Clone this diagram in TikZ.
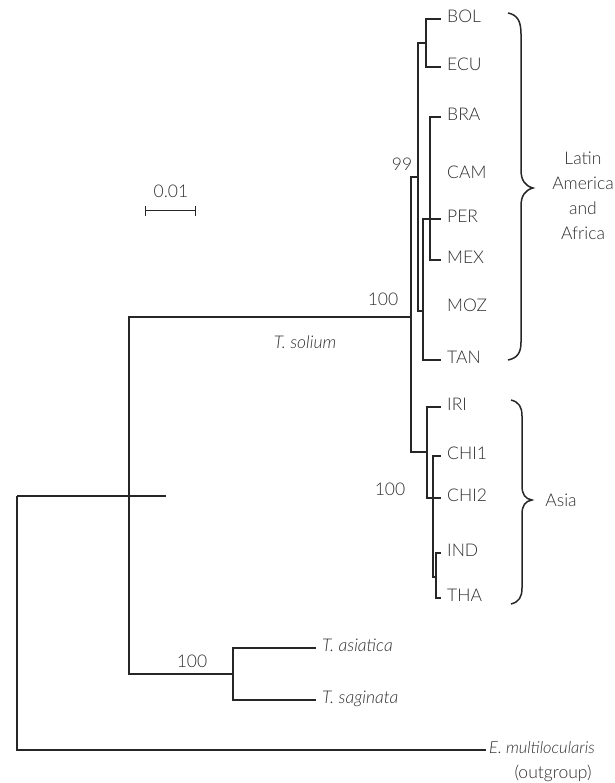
\documentclass[tikz,border=0pt]{standalone}
\usepackage{fontspec}
\setmainfont{Lato Light}[ItalicFont={Lato Light Italic}]
\definecolor{txt}{HTML}{2E2E2E}
\definecolor{linec}{HTML}{262626}
\begin{document}
\begin{tikzpicture}[x=1pt,y=-1pt,
  br/.style={line width=1.2pt,draw=linec},
  brace/.style={line width=1.5pt,draw=linec},
  leaf/.style={anchor=west,inner xsep=6pt,inner ysep=0pt,text height=0.72em,text depth=0pt,font=\fontsize{17.5}{20}\selectfont,text=txt},
  leafit/.style={leaf,font=\fontsize{17.5}{20}\selectfont\itshape},
  lab/.style={font=\fontsize{17.5}{20}\selectfont,text=txt,inner sep=0pt}]
\useasboundingbox (0,0) rectangle (614,783);

% leaves
\node[leaf] (BOL) at (441,19) {BOL};
\node[leaf] (ECU) at (441,67) {ECU};
\node[leaf] (BRA) at (441,117) {BRA};
\node[leaf] (CAM) at (441,175) {CAM};
\node[leaf] (PER) at (441,219) {PER};
\node[leaf] (MEX) at (441,260) {MEX};
\node[leaf] (MOZ) at (441,308) {MOZ};
\node[leaf] (TAN) at (441,360) {TAN};
\node[leaf] (IRI) at (441,407) {IRI};
\node[leaf] (CHIa) at (441,456) {CHI1};
\node[leaf] (CHIb) at (441,498) {CHI2};
\node[leaf] (IND) at (441,553) {IND};
\node[leaf] (THA) at (441,598) {THA};
\node[leafit] (Tas) at (316,648) {T. asiatica};
\node[leafit] (Tsa) at (316,700) {T. saginata};
\node[leafit,inner xsep=3pt,font=\fontsize{16.5}{20}\selectfont\itshape] (Emul) at (486,750) {E. multilocularis};
\node[lab] (outg) at (553,773) {(outgroup)};

% internal nodes
\coordinate (nBE) at (426,43);
\coordinate (nLA) at (418,177);
\coordinate (nS) at (423,311);
\coordinate (nB) at (430,219);
\coordinate (nSol) at (411,317);
\coordinate (nAs) at (427,452);
\coordinate (nC) at (433,498);
\coordinate (nIT) at (436,577);
\coordinate (nIn) at (129,496);
\coordinate (nTa) at (233,674);
\coordinate (root) at (17,496);
\coordinate (stub) at (166,496);

% branches
\draw[br] (nBE) |- (BOL.west);
\draw[br] (nBE) |- (ECU.west);
\draw[br] (nLA) |- (nBE);
\draw[br] (nLA) |- (nS);
\draw[br] (nS) |- (nB);
\draw[br] (nS) |- (TAN.west);
\draw[br] (nB) |- (BRA.west);
\draw[br] (nB) |- (PER.west);
\draw[br] (nB) |- (MEX.west);
\draw[br] (nSol) |- (nLA);
\draw[br] (nSol) |- (nAs);
\draw[br] (nAs) |- (IRI.west);
\draw[br] (nAs) |- (nC);
\draw[br] (nC) |- (CHIa.west);
\draw[br] (nC) |- (CHIb.west);
\draw[br] (nC) |- (nIT);
\draw[br] (nIT) |- (IND.west);
\draw[br] (nIT) |- (THA.west);
\draw[br] (nIn) |- (nSol);
\draw[br] (nIn) |- (nTa);
\draw[br] (nTa) |- (Tas.west);
\draw[br] (nTa) |- (Tsa.west);
\draw[br] (root) -- (stub);
\draw[br] (root) |- (Emul.west);

% support values and clade label
\node[lab] (s99) at (402,164) {99};
\node[lab] (s100a) at (383,299) {100};
\node[lab] (s100b) at (390,489) {100};
\node[lab] (s100c) at (192,661) {100};
\node[lab,font=\fontsize{17.5}{20}\selectfont\itshape] (sol) at (305,342) {T. solium};

% scale bar
\coordinate (sbL) at (145,211);
\coordinate (sbR) at (195,211);
\draw[br,line width=1pt] (sbL) -- (sbR);
\draw[br,line width=1pt] ([yshift=-5pt]sbL) -- ([yshift=5pt]sbL);
\draw[br,line width=1pt] ([yshift=-5pt]sbR) -- ([yshift=5pt]sbR);
\node[lab] (sbt) at (171,191) {0.01};

% braces
\draw[brace] (508,13) .. controls (518,15) and (521,22) .. (521,34)
  -- (521,170) .. controls (521,180) and (525,186) .. (533,188)
  .. controls (525,190) and (521,196) .. (521,206)
  -- (521,342) .. controls (521,352) and (518,358) .. (508,360);
\draw[brace] (511,400) .. controls (519,402) and (522,407) .. (522,416)
  -- (522,486) .. controls (522,494) and (525,499) .. (532,500)
  .. controls (525,501) and (522,506) .. (522,514)
  -- (522,588) .. controls (522,597) and (519,602) .. (511,604);

\node[lab,align=center,font=\fontsize{17.5}{25}\selectfont] (LA) at (583,196) {Latin\\America\\and\\Africa};
\node[lab] (As) at (561,500) {Asia};
\end{tikzpicture}
\end{document}
